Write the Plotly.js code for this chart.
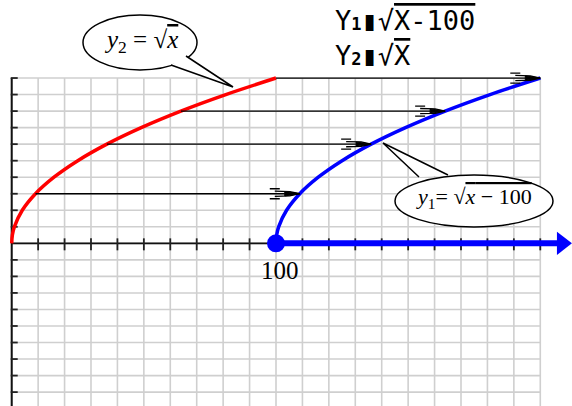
<!DOCTYPE html>
<html>
<head>
<meta charset="utf-8">
<script src="https://cdn.plot.ly/plotly-3.0.1.min.js"></script>
<style>
html, body { margin: 0; padding: 0; background: #fff; }
#chart { width: 572px; height: 406px; }
</style>
</head>
<body>
<div id="chart"></div>
<script>
// y2 = sqrt(x)
var redX = [0, 0.25, 1, 4, 9, 16, 25, 36, 49, 64, 81, 100];
var redY = [0, 0.5, 1, 2, 3, 4, 5, 6, 7, 8, 9, 10];
// y1 = sqrt(x - 100), same curve moved 100 to the right
var blueX = [100, 100.25, 101, 104, 109, 116, 125, 136, 149, 164, 181, 200];
var blueY = [0, 0.5, 1, 2, 3, 4, 5, 6, 7, 8, 9, 10];
// horizontal shift arrows (red curve -> blue curve)
var arrowY = [3, 6, 8, 10];
var arrowFrom = [9, 36, 64, 100];
var arrowTo = [109, 136, 164, 200];
// domain ray x >= 100
var rayX = [100, 208];
var rayY = [0, 0];
var rayTipX = [208.2];
var startX = [100];
// axis ticks and labels
var xTicks = [10, 20, 30, 40, 50, 60, 70, 80, 90, 110, 120, 130, 140, 150, 160, 170, 180, 190, 200];
var yTicks = [-10, -9, -8, -7, -6, -5, -4, -3, -2, -1, 1, 2, 3, 4, 5, 6, 7, 8, 9, 10];
var xLabelPos = [100];
var xLabelText = ['100'];

var W = 572, H = 406;
function px(v) { return v / W; }
function py(v) { return 1 - v / H; }

var shapes = [];
// grid
for (var gx = 0; gx <= 200; gx += 10) {
    shapes.push({type: 'line', layer: 'below', xref: 'x', yref: 'y', x0: gx, x1: gx, y0: -11, y1: 10,
        line: {color: '#cfcfcf', width: 1.6}});
}
for (var gy = -11; gy <= 10; gy++) {
    shapes.push({type: 'line', layer: 'below', xref: 'x', yref: 'y', x0: 0, x1: 200, y0: gy, y1: gy,
        line: {color: '#cfcfcf', width: 1.6}});
}
// axes
shapes.push({type: 'line', layer: 'below', xref: 'x', yref: 'y', x0: 0, x1: 0, y0: -11, y1: 10,
    line: {color: '#111', width: 2}});
shapes.push({type: 'line', layer: 'below', xref: 'x', yref: 'y', x0: 0, x1: 100, y0: 0, y1: 0,
    line: {color: '#111', width: 1.8}});
xTicks.forEach(function(t) {
    shapes.push({type: 'line', layer: 'below', xref: 'x', yref: 'y', ysizemode: 'pixel', yanchor: 0,
        x0: t, x1: t, y0: -7, y1: 5, line: {color: '#222', width: 1.8}});
});
yTicks.forEach(function(t) {
    shapes.push({type: 'line', layer: 'below', xref: 'x', yref: 'y', xsizemode: 'pixel', xanchor: 0,
        x0: -1, x1: 6, y0: t, y1: t, line: {color: '#222', width: 1.8}});
});

// shift arrows: shaft plus a feathered head drawn in pixels at the tip
for (var i = 0; i < arrowY.length; i++) {
    shapes.push({type: 'line', xref: 'x', yref: 'y', x0: arrowFrom[i], x1: arrowTo[i], y0: arrowY[i], y1: arrowY[i],
        line: {color: '#000', width: 1.3}});
    shapes.push({type: 'path', xref: 'x', yref: 'y', xsizemode: 'pixel', ysizemode: 'pixel',
        xanchor: arrowTo[i], yanchor: arrowY[i],
        path: 'M-15,2.2 L0,0 L-15,-2.2 Z', fillcolor: '#000', line: {color: '#000', width: 1}});
    shapes.push({type: 'path', xref: 'x', yref: 'y', xsizemode: 'pixel', ysizemode: 'pixel',
        xanchor: arrowTo[i], yanchor: arrowY[i],
        path: 'M-25,2.6 L-10,2.2 L0,0 M-25,-2.6 L-10,-2.2 L0,0 M-30,5 L-20,5 M-30,-5 L-20,-5',
        fillcolor: 'rgba(0,0,0,0)', line: {color: '#000', width: 1.3}});
}

// callout bubbles (tail drawn after ellipse so it hides the ellipse edge)
shapes.push({type: 'circle', xref: 'paper', yref: 'paper',
    x0: px(83), x1: px(197), y0: py(70), y1: py(15),
    fillcolor: '#fff', line: {color: '#000', width: 1.5}});
shapes.push({type: 'path', xref: 'paper', yref: 'paper',
    path: 'M' + px(186) + ',' + py(56) + ' L' + px(233) + ',' + py(87) + ' L' + px(171) + ',' + py(65),
    fillcolor: '#fff', line: {color: '#000', width: 1.5}});
shapes.push({type: 'circle', xref: 'paper', yref: 'paper',
    x0: px(395), x1: px(553), y0: py(227), y1: py(175),
    fillcolor: '#fff', line: {color: '#000', width: 1.5}});
shapes.push({type: 'path', xref: 'paper', yref: 'paper',
    path: 'M' + px(419) + ',' + py(177) + ' L' + px(383) + ',' + py(143) + ' L' + px(448) + ',' + py(175),
    fillcolor: '#fff', line: {color: '#000', width: 1.5}});

var annotations = [];
for (var j = 0; j < xLabelPos.length; j++) {
    annotations.push({x: xLabelPos[j], y: 0, xref: 'x', yref: 'y', text: xLabelText[j], showarrow: false,
        xanchor: 'center', yanchor: 'top', xshift: 4, yshift: -12,
        font: {family: 'Liberation Serif', size: 25, color: '#000'}});
}
var ti = {family: 'DejaVu Sans Mono', size: 27, color: '#000'};
var small = '<span style="font-size:17px"><b>';
annotations.push({xref: 'paper', yref: 'paper', x: px(333), y: py(21), xanchor: 'left', yanchor: 'middle',
    showarrow: false, font: ti,
    text: 'Y' + small + '1</b></span>\u25AE\u221A<span style="text-decoration:overline">X-100</span>'});
annotations.push({xref: 'paper', yref: 'paper', x: px(333), y: py(55), xanchor: 'left', yanchor: 'middle',
    showarrow: false, font: ti,
    text: 'Y' + small + '2</b></span>\u25AE\u221A<span style="text-decoration:overline">X</span>'});
var serif = {family: 'Liberation Serif', size: 25, color: '#000'};
annotations.push({xref: 'paper', yref: 'paper', x: px(141), y: py(42), xanchor: 'center', yanchor: 'middle',
    showarrow: false, font: serif,
    text: '<i>y</i><sub>2</sub> = \u221A<span style="text-decoration:overline"><i>x</i></span>'});
annotations.push({xref: 'paper', yref: 'paper', x: px(474), y: py(198), xanchor: 'center', yanchor: 'middle',
    showarrow: false, font: {family: 'Liberation Serif', size: 22, color: '#000'},
    text: '<i>y</i><sub>1</sub>= \u221A<span style="text-decoration:overline"><i>x</i> \u2212 100</span>'});

var traces = [
    {x: redX, y: redY, mode: 'lines', line: {color: '#ff0000', width: 3.5, shape: 'spline'}, hoverinfo: 'skip'},
    {x: blueX, y: blueY, mode: 'lines', line: {color: '#0000ff', width: 3.5, shape: 'spline'}, hoverinfo: 'skip'},
    {x: rayX, y: rayY, mode: 'lines', line: {color: '#0000ff', width: 6}, hoverinfo: 'skip'},
    {x: rayTipX, y: [0], mode: 'markers', marker: {symbol: 'triangle-right', size: 20, color: '#0000ff'}, hoverinfo: 'skip'},
    {x: startX, y: [0], mode: 'markers', marker: {symbol: 'circle', size: 18, color: '#0000ff'}, hoverinfo: 'skip'}
];

var layout = {
    width: W, height: H,
    margin: {l: 0, r: 0, t: 0, b: 0},
    paper_bgcolor: '#fff', plot_bgcolor: '#fff',
    showlegend: false,
    xaxis: {range: [-4.43, 212.0], visible: false, fixedrange: true},
    yaxis: {range: [-9.84, 14.72], visible: false, fixedrange: true},
    shapes: shapes,
    annotations: annotations
};

Plotly.newPlot('chart', traces, layout, {staticPlot: true});
</script>
</body>
</html>
